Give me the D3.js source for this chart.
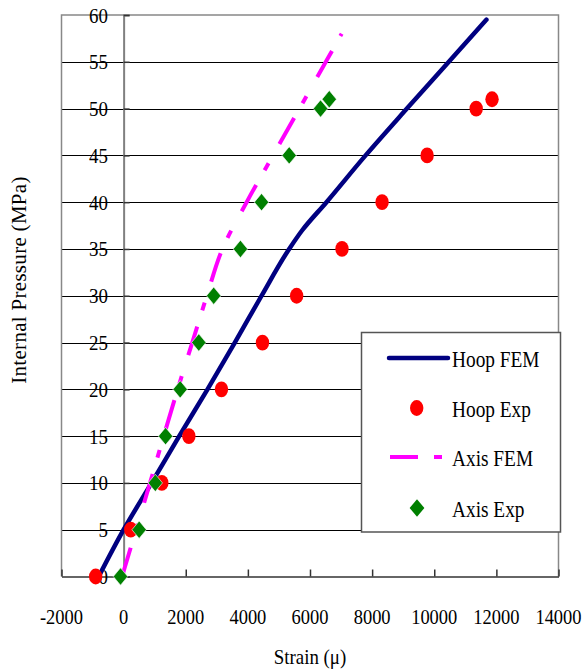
<!DOCTYPE html>
<html>
<head>
<meta charset="utf-8">
<script src="https://cdn.jsdelivr.net/npm/d3@7"></script>
<style>
  body { margin: 0; background: #fff; }
  svg { display: block; }
  text { font-family: "Liberation Serif", "Times New Roman", serif; fill: #000; }
</style>
</head>
<body>
<svg id="chart" width="584" height="671"></svg>
<script>
// tick labels
const xTicks = [-2000, 0, 2000, 4000, 6000, 8000, 10000, 12000, 14000];
const yTicks = [0, 5, 10, 15, 20, 25, 30, 35, 40, 45, 50, 55, 60];

// FEM curves
const hoopFemStrain = [-800, 0, 900, 1790, 2700, 3580, 4440, 5330, 5750, 6530, 7790, 9120, 10470, 11680];
const hoopFemPressure = [0, 5, 10, 15, 20, 25, 30, 35, 37, 40, 45, 50, 55, 59.5];
const axisFemStrain = [-50, 400, 850, 1290, 1740, 2210, 2680, 3180, 3960, 4810, 5660, 6510, 7020];
const axisFemPressure = [0, 5, 10, 15, 20, 25, 30, 35, 40, 45, 50, 55, 58];

// experiments
const hoopExpStrain = [-900, 230, 1230, 2100, 3150, 4470, 5570, 7030, 8320, 9770, 11350, 11860];
const hoopExpPressure = [0, 5, 10, 15, 20, 25, 30, 35, 40, 45, 50, 51];
const axisExpStrain = [-100, 500, 1020, 1350, 1820, 2420, 2900, 3760, 4440, 5330, 6340, 6620];
const axisExpPressure = [0, 5, 10, 15, 20, 25, 30, 35, 40, 45, 50, 51];

const seriesNames = ["Hoop FEM", "Hoop Exp", "Axis FEM", "Axis Exp"];

const svg = d3.select("#chart");
const sx = 0.86; // the text in the picture is squeezed sideways

const x = d3.scaleLinear().domain([-2000, 14000]).range([61.5, 558.5]);
const y = d3.scaleLinear().domain([0, 60]).range([576.5, 15]);

function label(g, str, tx, ty, anchor, size) {
    return g.append("text")
        .attr("transform", `translate(${tx},${ty}) scale(${sx},1)`)
        .attr("text-anchor", anchor)
        .style("font-size", size + "px")
        .text(str);
}

// gridlines
svg.append("g").selectAll("line")
    .data(yTicks.filter(d => d > 0 && d < 60))
    .enter().append("line")
    .attr("x1", x(-2000)).attr("x2", x(14000))
    .attr("y1", d => Math.round(y(d)) + 0.5).attr("y2", d => Math.round(y(d)) + 0.5)
    .attr("stroke", "#000").attr("stroke-width", 1);

// frame (left, top, right)
svg.append("path")
    .attr("d", `M${x(-2000)},${y(0)}V${y(60)}H${x(14000)}V${y(0)}`)
    .attr("fill", "none").attr("stroke", "#888").attr("stroke-width", 1.5);

// y axis at strain 0
const yAxis = svg.append("g")
    .attr("transform", `translate(${x(0)},0)`)
    .call(d3.axisRight(y).tickValues(yTicks).tickSize(6).tickFormat(""));
yAxis.select(".domain").attr("stroke", "#808080").attr("stroke-width", 2);
yAxis.selectAll(".tick line").attr("stroke", "#333").attr("stroke-width", 1.5);

// x axis at pressure 0
const xAxis = svg.append("g")
    .attr("transform", `translate(0,${y(0)})`)
    .call(d3.axisTop(x).tickValues(xTicks).tickSize(7).tickSizeOuter(0).tickFormat(""));
xAxis.select(".domain").attr("stroke", "#333").attr("stroke-width", 1.5);
xAxis.selectAll(".tick line").attr("stroke", "#333").attr("stroke-width", 1.5);

// tick labels
const tl = svg.append("g");
yTicks.forEach(d => label(tl, d, 108, y(d) + 7.5, "end", 22));
xTicks.forEach(d => label(tl, d, x(d), 624, "middle", 21.5));

// axis titles
label(svg, "Strain (\u03bc)", 310, 664, "middle", 22);
svg.append("text")
    .attr("transform", `translate(26,280) rotate(-90)`)
    .attr("text-anchor", "middle")
    .style("font-size", "21px")
    .style("letter-spacing", "0.3px")
    .text("Internal Pressure (MPa)");

// lines
const line = d3.line().x(d => x(d[0])).y(d => y(d[1])).curve(d3.curveMonotoneY);
const hoopFem = d3.zip(hoopFemStrain, hoopFemPressure);
const axisFem = d3.zip(axisFemStrain, axisFemPressure);

svg.append("path").datum(hoopFem)
    .attr("d", line)
    .attr("fill", "none").attr("stroke", "#000080").attr("stroke-width", 4.5)
    .attr("stroke-linecap", "round").attr("stroke-linejoin", "round");

svg.append("path").datum(axisFem)
    .attr("d", line)
    .attr("fill", "none").attr("stroke", "#ff00ff").attr("stroke-width", 4)
    .attr("stroke-dasharray", "30,17,8,22");

// markers
const diamond = (cx, cy, w, h) => `M${cx},${cy - h}L${cx + w},${cy}L${cx},${cy + h}L${cx - w},${cy}Z`;

svg.append("g").selectAll("ellipse")
    .data(d3.zip(hoopExpStrain, hoopExpPressure))
    .enter().append("ellipse")
    .attr("cx", d => x(d[0])).attr("cy", d => y(d[1]))
    .attr("rx", 6.7).attr("ry", 7.9)
    .attr("fill", "#ff0000");

svg.append("g").selectAll("path")
    .data(d3.zip(axisExpStrain, axisExpPressure))
    .enter().append("path")
    .attr("d", d => diamond(x(d[0]), y(d[1]), 7.2, 8.7))
    .attr("fill", "#008000").attr("stroke", "#fff").attr("stroke-width", 0.6);

// legend
const lg = svg.append("g");
lg.append("rect")
    .attr("x", 361.5).attr("y", 332.5).attr("width", 199).attr("height", 199.5)
    .attr("fill", "#fff").attr("stroke", "#555").attr("stroke-width", 1.5);

const rowY = [358, 408, 457, 508];
lg.append("line").attr("x1", 389).attr("x2", 448).attr("y1", rowY[0]).attr("y2", rowY[0])
    .attr("stroke", "#000080").attr("stroke-width", 4.5).attr("stroke-linecap", "round");
lg.append("ellipse").attr("cx", 416.7).attr("cy", rowY[1]).attr("rx", 6.7).attr("ry", 7.9)
    .attr("fill", "#ff0000");
lg.append("line").attr("x1", 390).attr("x2", 442).attr("y1", rowY[2]).attr("y2", rowY[2])
    .attr("stroke", "#ff00ff").attr("stroke-width", 4).attr("stroke-dasharray", "28,16,8,16");
lg.append("path").attr("d", diamond(417, rowY[3], 7.4, 8.8)).attr("fill", "#008000");

seriesNames.forEach((n, i) => label(lg, n, 452, rowY[i] + 8.5, "start", 22.5));
</script>
</body>
</html>
